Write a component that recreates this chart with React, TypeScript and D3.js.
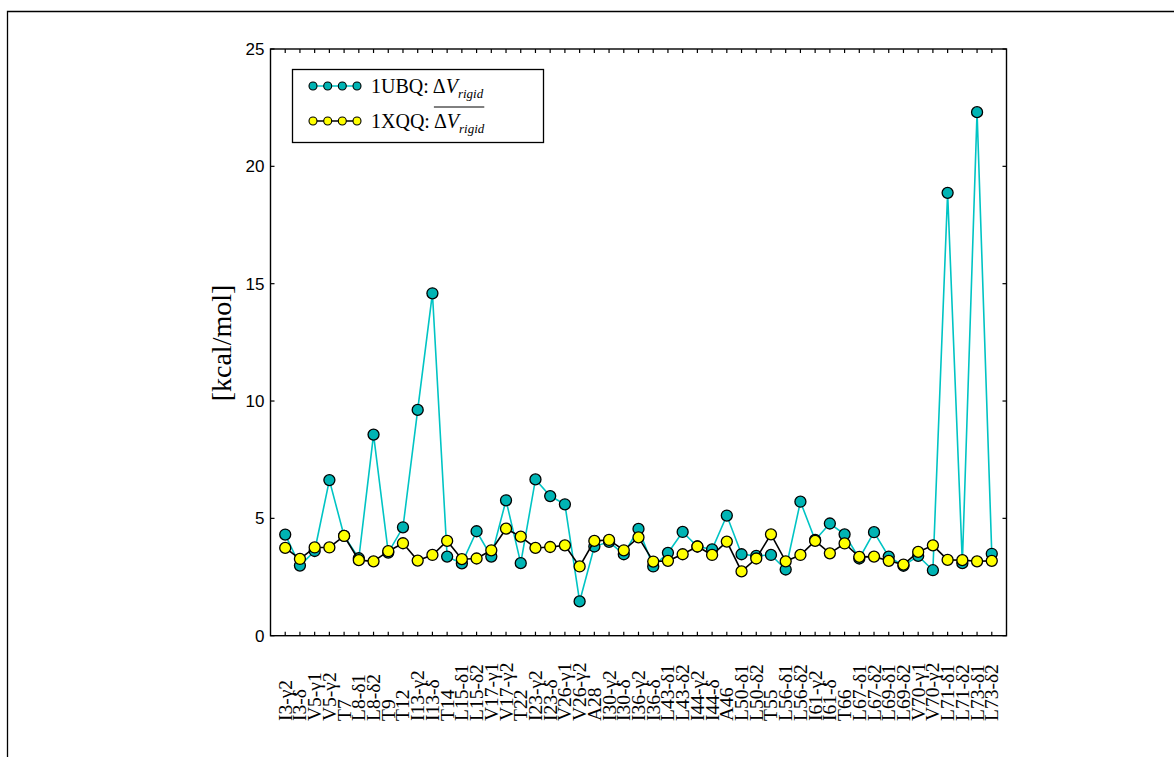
import React, { useRef, useEffect } from 'react';
import * as d3 from 'd3';

const labels = ["I3-γ2", "I3-δ", "V5-γ1", "V5-γ2", "T7", "L8-δ1", "L8-δ2", "T9", "T12", "I13-γ2", "I13-δ", "T14", "L15-δ1", "L15-δ2", "V17-γ1", "V17-γ2", "T22", "I23-γ2", "I23-δ", "V26-γ1", "V26-γ2", "A28", "I30-γ2", "I30-δ", "I36-γ2", "I36-δ", "L43-δ1", "L43-δ2", "I44-γ2", "I44-δ", "A46", "L50-δ1", "L50-δ2", "T55", "L56-δ1", "L56-δ2", "I61-γ2", "I61-δ", "T66", "L67-δ1", "L67-δ2", "L69-δ1", "L69-δ2", "V70-γ1", "V70-γ2", "L71-δ1", "L71-δ2", "L73-δ1", "L73-δ2"];

const ubq = [4.31, 2.99, 3.61, 6.63, 4.25, 3.30, 8.57, 3.54, 4.62, 9.62, 14.59, 3.37, 3.08, 4.45, 3.37, 5.77, 3.09, 6.66, 5.95, 5.60, 1.46, 3.80, 4.00, 3.47, 4.55, 2.95, 3.53, 4.42, 3.80, 3.68, 5.12, 3.47, 3.40, 3.44, 2.82, 5.71, 4.08, 4.78, 4.32, 3.29, 4.41, 3.37, 2.98, 3.40, 2.79, 18.87, 3.09, 22.31, 3.49];

const xqq = [3.74, 3.27, 3.76, 3.76, 4.25, 3.22, 3.17, 3.60, 3.94, 3.20, 3.44, 4.04, 3.26, 3.29, 3.64, 4.56, 4.22, 3.74, 3.78, 3.85, 2.95, 4.04, 4.08, 3.64, 4.19, 3.16, 3.19, 3.47, 3.80, 3.44, 4.01, 2.74, 3.29, 4.32, 3.17, 3.44, 4.04, 3.51, 3.93, 3.36, 3.37, 3.19, 3.03, 3.57, 3.85, 3.23, 3.22, 3.17, 3.19];

const yTicks = [0, 5, 10, 15, 20, 25];

const W = 1174;
const H = 757;
const serif = '"Liberation Serif", "Times New Roman", serif';
const sans = '"Liberation Sans", Arial, sans-serif';

const Chart = () => {
    const ref = useRef<SVGSVGElement>(null);

    useEffect(() => {
        const svg = d3.select(ref.current)
        svg.selectAll('*').remove();

        const left = 270.5, right = 1006.5, top = 49, bottom = 635.7;

        const x = d3.scaleLinear().domain([-1, labels.length]).range([left, right]);
        const y = d3.scaleLinear().domain([0, 25]).range([bottom, top]);

        // outer frame (only top and left edges visible)
        svg.append('path')
            .attr('d', `M7.5,${H} V11.5 H${W}`)
            .attr('fill', 'none')
            .attr('stroke', 'black')
            .attr('stroke-width', 1.3);

        const g = svg.append('g');

        // plot box
        g.append('rect')
            .attr('x', left).attr('y', top)
            .attr('width', right - left).attr('height', bottom - top)
            .attr('fill', 'none').attr('stroke', 'black').attr('stroke-width', 1.4);

        // category ticks top + bottom
        labels.forEach((_, i) => {
            g.append('line').attr('x1', x(i)).attr('x2', x(i)).attr('y1', bottom).attr('y2', bottom - 4)
                .attr('stroke', 'black').attr('stroke-width', 1.2);
            g.append('line').attr('x1', x(i)).attr('x2', x(i)).attr('y1', top).attr('y2', top + 4)
                .attr('stroke', 'black').attr('stroke-width', 1.2);
        });

        // y ticks left + right
        yTicks.forEach(t => {
            g.append('line').attr('x1', left).attr('x2', left + 4).attr('y1', y(t)).attr('y2', y(t))
                .attr('stroke', 'black').attr('stroke-width', 1.2);
            g.append('line').attr('x1', right).attr('x2', right - 4).attr('y1', y(t)).attr('y2', y(t))
                .attr('stroke', 'black').attr('stroke-width', 1.2);
            g.append('text')
                .attr('x', left - 6).attr('y', y(t) + 6)
                .attr('text-anchor', 'end')
                .style('font-family', sans).style('font-size', '17px')
                .text(t);
        });

        // x labels, rotated, bottom aligned
        labels.forEach((lab, i) => {
            g.append('text')
                .attr('transform', `translate(${x(i) + 6.5},721) rotate(-90)`)
                .attr('text-anchor', 'start')
                .style('font-family', serif).style('font-size', '19.5px')
                .text(lab);
        });

        // y axis title
        g.append('text')
            .attr('transform', `translate(231,343) rotate(-90)`)
            .attr('text-anchor', 'middle')
            .style('font-family', serif).style('font-size', '28px')
            .text('[kcal/mol]');

        const line = d3.line<number>().x((_, i) => x(i)).y(d => y(d));

        // 1UBQ
        g.append('path').attr('d', line(ubq)).attr('fill', 'none')
            .attr('stroke', '#00c4c4').attr('stroke-width', 1.6);
        g.selectAll('.ubq').data(ubq).enter().append('circle')
            .attr('cx', (_, i) => x(i)).attr('cy', d => y(d)).attr('r', 5.5)
            .attr('fill', '#00b4b4').attr('stroke', 'black').attr('stroke-width', 1.3);

        // 1XQQ
        g.append('path').attr('d', line(xqq)).attr('fill', 'none')
            .attr('stroke', 'black').attr('stroke-width', 1.6);
        g.selectAll('.xqq').data(xqq).enter().append('circle')
            .attr('cx', (_, i) => x(i)).attr('cy', d => y(d)).attr('r', 5.5)
            .attr('fill', '#ffff00').attr('stroke', 'black').attr('stroke-width', 1.3);

        // legend
        const lg = g.append('g');
        lg.append('rect').attr('x', 292.5).attr('y', 69.5).attr('width', 251).attr('height', 73)
            .attr('fill', 'white').attr('stroke', 'black').attr('stroke-width', 1.3);

        const rows = [
            { name: '1UBQ: ', line: '#00c4c4', fill: '#00b4b4', yy: 86, bar: false },
            { name: '1XQQ: ', line: 'black', fill: '#ffff00', yy: 121, bar: true },
        ];
        rows.forEach(r => {
            lg.append('line').attr('x1', 313).attr('x2', 357).attr('y1', r.yy).attr('y2', r.yy)
                .attr('stroke', r.line).attr('stroke-width', 1.4);
            [313, 327.7, 342.3, 357].forEach(cx => {
                lg.append('circle').attr('cx', cx).attr('cy', r.yy).attr('r', 4)
                    .attr('fill', r.fill).attr('stroke', 'black').attr('stroke-width', 1.1);
            });
            const name = lg.append('text').attr('x', 371).attr('y', r.yy + 7)
                .style('font-family', serif).style('font-size', '20px')
                .text(r.name);
            const nw = (name.node() as SVGTextElement).getComputedTextLength();
            const mx = 371 + nw + 4;
            const math = lg.append('text').attr('x', mx).attr('y', r.yy + 7)
                .style('font-family', serif).style('font-size', '20px');
            math.append('tspan').text('Δ');
            math.append('tspan').style('font-style', 'italic').text('V');
            math.append('tspan').style('font-style', 'italic').style('font-size', '13px')
                .attr('dy', 5).text('rigid');
            if (r.bar) {
                const mw = (math.node() as SVGTextElement).getComputedTextLength();
                lg.append('line').attr('x1', mx).attr('x2', mx + mw).attr('y1', r.yy - 14).attr('y2', r.yy - 14)
                    .attr('stroke', 'black').attr('stroke-width', 1);
            }
        });
    }, []);

    return (
        <div style={{ position: 'absolute', left: 0, top: 0 }}>
            <svg ref={ref} width={W} height={H} style={{ display: 'block', background: 'white' }}>
            </svg>
        </div>
    )
}

export default function App() {
    return <Chart />;
}
